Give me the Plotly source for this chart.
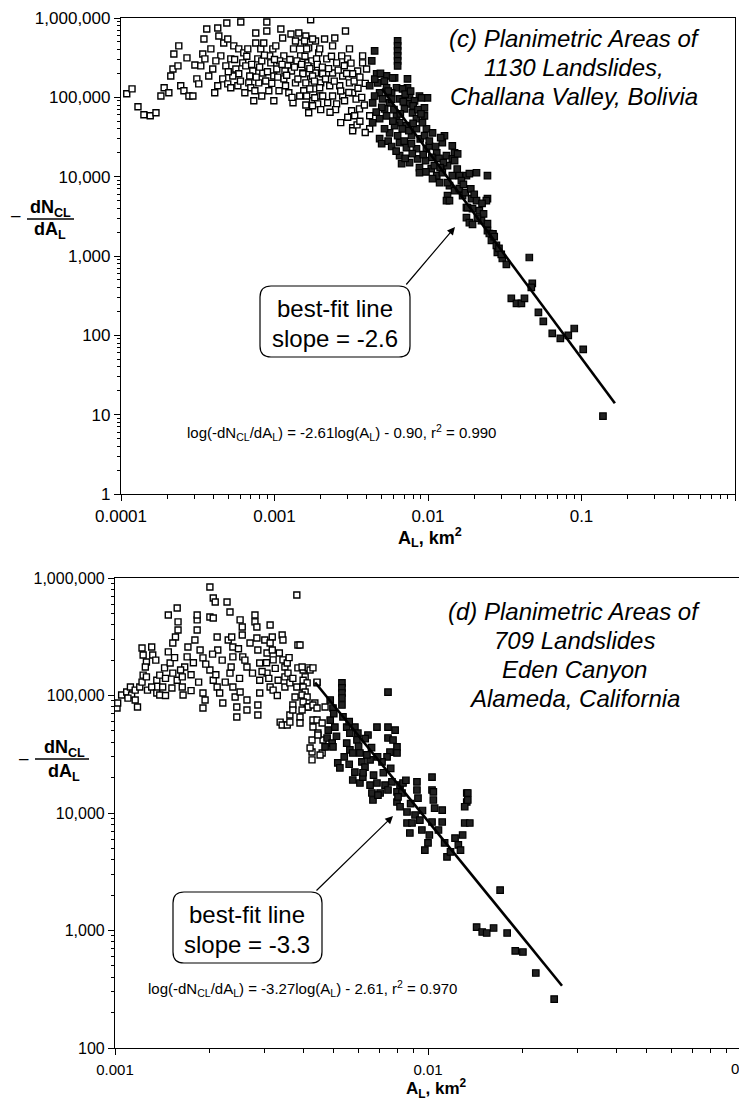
import plotly.graph_objects as go

W, H = 739, 1100

# ---------------- data: panel (c) Challana Valley ----------------
top_open = [
    (1.09e-4, 111000), (1.18e-4, 128000), (1.29e-4, 76000), (1.41e-4, 60300), (1.55e-4, 58500),
    (1.69e-4, 63800), (1.82e-4, 104000), (1.91e-4, 132000), (2.05e-4, 114000), (2.11e-4, 186000),
    (2.18e-4, 228000), (2.21e-4, 352000), (2.38e-4, 445000), (2.35e-4, 249000), (2.45e-4, 140000),
    (2.57e-4, 121000), (2.69e-4, 314000), (2.77e-4, 104000), (2.94e-4, 104000), (3.03e-4, 256000),
    (3.12e-4, 171000), (3.21e-4, 148000), (3.31e-4, 249000), (3.47e-4, 544000), (3.41e-4, 352000),
    (3.52e-4, 305000), (3.62e-4, 727000), (3.85e-4, 408000), (3.96e-4, 228000), (4.08e-4, 114000),
    (4.27e-4, 748000), (4.34e-4, 594000), (4.27e-4, 140000), (4.47e-4, 333000), (4.60e-4, 171000),
    (4.89e-4, 865000), (4.67e-4, 485000), (4.96e-4, 544000), (4.96e-4, 148000), (5.19e-4, 305000),
    (5.19e-4, 132000), (5.43e-4, 445000), (5.60e-4, 228000), (5.85e-4, 408000), (5.85e-4, 198000),
    (6.03e-4, 891000), (6.21e-4, 272000), (6.31e-4, 363000), (6.70e-4, 408000), (6.80e-4, 152000),
    (7.01e-4, 132000), (7.22e-4, 215000), (7.55e-4, 647000), (7.55e-4, 485000), (7.78e-4, 305000),
    (7.90e-4, 152000), (8.14e-4, 408000), (8.39e-4, 203000), (8.91e-4, 891000), (8.91e-4, 686000),
    (8.51e-4, 485000), (9.18e-4, 121000), (9.46e-4, 272000), (9.75e-4, 408000), (9.89e-4, 186000),
    (1.02e-3, 445000), (1.10e-3, 727000), (1.13e-3, 560000), (1.07e-3, 121000), (1.15e-3, 333000),
    (1.15e-3, 171000), (1.22e-3, 249000), (1.24e-3, 114000), (1.28e-3, 629000), (1.32e-3, 85300),
    (1.33e-3, 408000), (1.37e-3, 152000), (1.44e-3, 647000), (1.48e-3, 485000), (1.48e-3, 333000),
    (1.53e-3, 203000), (1.55e-3, 121000), (1.65e-3, 272000), (1.67e-3, 420000), (1.72e-3, 950000),
    (1.72e-3, 171000), (1.77e-3, 90400), (1.67e-3, 63800), (1.80e-3, 128000), (1.91e-3, 228000),
    (1.94e-3, 363000), (2.00e-3, 152000),
    (5.35e-4, 186000), (5.77e-4, 140000), (6.50e-4, 249000), (6.90e-4, 186000), (7.45e-4, 121000),
    (8.26e-4, 288000), (8.77e-4, 161000), (9.31e-4, 333000), (1.035e-3, 228000), (1.08e-3, 288000),
    (1.18e-3, 140000), (1.29e-3, 215000), (1.40e-3, 288000), (1.46e-3, 104000), (1.60e-3, 152000),
    (1.75e-3, 288000), (1.85e-3, 203000), (1.97e-3, 104000), (4.82e-4, 249000), (4.15e-4, 288000),
    (3.73e-4, 186000), (8.26e-4, 104000), (7.33e-4, 90400), (6.41e-4, 114000), (9.90e-4, 90400),
    (1.17e-3, 215000), (1.37e-3, 514000), (1.60e-3, 594000), (1.85e-3, 514000),
    (1.57e-3, 514000), (1.77e-3, 544000), (2.12e-3, 544000), (2.47e-3, 560000), (2.90e-3, 686000),
    (2.39e-3, 445000), (1.97e-3, 408000), (1.62e-3, 408000), (3.08e-3, 408000), (2.99e-3, 305000),
    (2.74e-3, 333000), (2.54e-3, 272000), (2.19e-3, 305000), (1.88e-3, 305000), (1.65e-3, 249000),
    (3.75e-3, 333000), (3.75e-3, 272000), (3.98e-3, 228000), (3.48e-3, 215000), (3.23e-3, 198000),
    (2.78e-3, 186000), (2.39e-3, 203000), (2.06e-3, 198000), (1.77e-3, 186000), (1.53e-3, 198000),
    (3.08e-3, 152000), (2.66e-3, 140000), (2.29e-3, 140000), (1.97e-3, 132000), (1.70e-3, 128000),
    (3.23e-3, 114000), (2.78e-3, 104000), (2.39e-3, 104000), (2.06e-3, 104000), (1.83e-3, 98600),
    (1.62e-3, 104000), (2.86e-3, 90400), (2.54e-3, 82800), (2.22e-3, 85300), (1.91e-3, 82800),
    (1.77e-3, 78200), (3.18e-3, 67600), (3.58e-3, 71600), (3.33e-3, 58500), (3.23e-3, 41300),
    (3.23e-3, 37900), (4.17e-3, 40200), (4.17e-3, 58500),
    (5.0e-4, 210000), (5.5e-4, 300000), (6.0e-4, 160000), (6.6e-4, 330000), (7.1e-4, 260000),
    (7.6e-4, 180000), (8.0e-4, 240000), (8.6e-4, 340000), (9.0e-4, 210000), (9.6e-4, 150000),
    (1.0e-3, 300000), (1.05e-3, 180000), (1.12e-3, 260000), (1.2e-3, 190000), (1.26e-3, 300000),
    (1.35e-3, 240000), (1.42e-3, 170000), (1.5e-3, 260000), (1.58e-3, 330000), (1.7e-3, 230000),
    (1.82e-3, 160000), (1.9e-3, 260000), (2.05e-3, 240000), (2.15e-3, 170000), (2.25e-3, 230000),
    (2.35e-3, 330000), (2.45e-3, 160000), (2.6e-3, 220000), (2.7e-3, 120000), (2.85e-3, 250000),
    (2.95e-3, 200000), (3.05e-3, 115000), (3.15e-3, 270000), (3.3e-3, 160000), (3.4e-3, 95000),
    (3.5e-3, 130000), (3.6e-3, 180000), (3.7e-3, 100000), (3.9e-3, 150000), (3.85e-3, 80000),
    (2.5e-3, 70000), (2.3e-3, 65000), (2.0e-3, 70000), (3.0e-3, 56000), (2.7e-3, 48000),
    (3.45e-3, 45000), (3.9e-3, 36000), (3.6e-3, 50000), (1.6e-3, 80000), (1.3e-3, 100000),
]
top_filled = [
    (6.34e-3, 514000), (6.34e-3, 445000), (6.34e-3, 385000), (6.34e-3, 333000), (6.34e-3, 288000),
    (6.34e-3, 249000), (4.63e-3, 198000), (4.70e-3, 152000), (5.37e-3, 186000), (5.37e-3, 132000),
    (6.06e-3, 176000), (6.24e-3, 132000), (7.35e-3, 171000), (7.35e-3, 132000), (7.58e-3, 104000),
    (7.58e-3, 82800), (8.80e-3, 104000), (9.92e-3, 98600), (9.48e-3, 73800), (9.48e-3, 58500),
    (4.84e-3, 114000), (5.06e-3, 95800), (4.36e-3, 85300), (5.62e-3, 85300), (6.53e-3, 95800),
    (7.03e-3, 71600), (7.93e-3, 63800), (8.41e-3, 53700), (6.24e-3, 58500), (5.37e-3, 58500),
    (4.84e-3, 53700), (4.36e-3, 47800), (6.53e-3, 47800), (7.24e-3, 43900), (8.41e-3, 40200),
    (9.77e-3, 40200), (0.0107, 35700), (0.0128, 32800), (0.0124, 26800), (0.0144, 24500),
    (4.84e-3, 30100), (4.99e-3, 26000), (5.62e-3, 35700), (6.34e-3, 32800), (6.53e-3, 26800),
    (7.24e-3, 23200), (8.41e-3, 22500), (9.77e-3, 22500), (0.0114, 20000), (0.0132, 18400),
    (0.0149, 20000), (0.0144, 16800), (6.53e-3, 18400), (6.73e-3, 14600), (7.58e-3, 15000),
    (8.80e-3, 13000), (8.80e-3, 11200), (0.0105, 12600), (0.0114, 10300), (0.0124, 11200),
    (0.0134, 13800), (0.0144, 10300), (0.0160, 10300), (0.0178, 10300), (0.0207, 11200),
    (0.0244, 10300), (0.0107, 9440), (0.0119, 8410), (0.0138, 7710), (0.0149, 6670),
    (0.0160, 7060), (0.0168, 5770), (0.0134, 5770), (0.0132, 4990), (0.0192, 5290),
    (0.0207, 4990), (0.0244, 5290), (0.0178, 4070), (0.0195, 3960), (0.0216, 3730),
    (5.88e-3, 176000), (9.07e-3, 98600), (0.0121, 31000), (0.0156, 19400), (0.0149, 15900),
    (0.0186, 10900), (0.0134, 8410), (0.0138, 4990), (0.0181, 4070), (0.0178, 3050),
    (0.0186, 2640), (0.0240, 4990), (0.0223, 2800), (0.0244, 2560), (0.0244, 2090),
    (0.0251, 1920), (0.0259, 1570), (0.0279, 1360), (0.0283, 1110), (0.0305, 930),
    (0.0324, 782), (0.0457, 957), (0.0478, 451), (0.0471, 402), (0.0349, 292),
    (0.0377, 253), (0.0406, 253), (0.0425, 292), (0.0524, 195), (0.0564, 150),
    (0.0645, 106), (0.0728, 91.7), (0.0820, 100), (0.0897, 122), (0.1026, 66.7), (0.138, 9.57),
    (4.30e-3, 288000), (4.49e-3, 385000), (4.17e-3, 140000), (4.49e-3, 104000), (5.21e-3, 71600),
    (5.79e-3, 114000), (6.06e-3, 43900), (5.21e-3, 40200), (7.81e-3, 32800), (8.17e-3, 90400),
    (6.83e-3, 128000), (8.55e-3, 16800), (9.64e-3, 15900), (0.0110, 13800), (0.0102, 24500),
    (0.0165, 8900),
    (4.5e-3, 170000), (4.9e-3, 200000), (5.2e-3, 160000), (5.5e-3, 120000), (5.0e-3, 75000),
    (4.6e-3, 65000), (5.8e-3, 95000), (6.0e-3, 70000), (6.6e-3, 62000), (6.9e-3, 88000),
    (7.1e-3, 110000), (7.7e-3, 120000), (8.0e-3, 78000), (8.6e-3, 70000), (9.0e-3, 62000),
    (9.2e-3, 48000), (8.0e-3, 47000), (7.5e-3, 38000), (6.8e-3, 40000), (5.9e-3, 50000),
    (5.5e-3, 28000), (5.8e-3, 24000), (6.2e-3, 21000), (7.0e-3, 28000), (7.8e-3, 26000),
    (8.9e-3, 30000), (9.5e-3, 33000), (0.0102, 28000), (0.0112, 24000), (0.0118, 17000),
    (0.0106, 17500), (9.3e-3, 19000), (7.9e-3, 19500), (7.1e-3, 17000), (0.0126, 15000),
    (0.0120, 13000), (0.0097, 11500), (0.0155, 12500), (0.0170, 8000), (0.0175, 6300),
    (0.0190, 7000), (0.0200, 6000), (0.0225, 4600), (0.0230, 3400), (0.0210, 3000),
    (0.0195, 2500), (0.0265, 1900), (0.0270, 1750), (0.0290, 1250), (0.0300, 1050),
]
top_fit_x = [0.005, 0.165]
top_fit_y = [128000, 13.9]

# ---------------- data: panel (d) Eden Canyon ----------------
bot_open = [
    (1.015e-3, 78300), (1.02e-3, 86300), (1.05e-3, 101000), (1.09e-3, 107000), (1.12e-3, 118000),
    (1.13e-3, 101000), (1.16e-3, 91600), (1.18e-3, 79800), (1.16e-3, 111000), (1.20e-3, 118000),
    (1.22e-3, 130000), (1.23e-3, 149000), (1.26e-3, 144000), (1.22e-3, 254000), (1.23e-3, 221000),
    (1.26e-3, 193000), (1.31e-3, 259000), (1.32e-3, 221000), (1.27e-3, 111000), (1.31e-3, 118000),
    (1.36e-3, 105000), (1.39e-3, 101000), (1.42e-3, 118000), (1.36e-3, 135000), (1.39e-3, 149000),
    (1.44e-3, 172000), (1.48e-3, 235000), (1.48e-3, 484000), (1.58e-3, 556000), (1.59e-3, 423000),
    (1.59e-3, 361000), (1.56e-3, 315000), (1.53e-3, 280000), (1.50e-3, 189000), (1.53e-3, 155000),
    (1.52e-3, 116000), (1.58e-3, 135000), (1.64e-3, 144000), (1.64e-3, 118000), (1.65e-3, 101000),
    (1.67e-3, 175000), (1.70e-3, 213000), (1.71e-3, 259000), (1.80e-3, 297000), (1.83e-3, 361000),
    (1.83e-3, 440000), (1.83e-3, 484000), (1.87e-3, 244000), (1.91e-3, 209000), (1.91e-3, 105000),
    (1.94e-3, 91600), (1.91e-3, 78300), (2.01e-3, 165000), (2.01e-3, 838000), (2.06e-3, 676000),
    (2.09e-3, 625000), (2.01e-3, 466000), (2.06e-3, 457000), (2.12e-3, 315000), (2.13e-3, 244000),
    (2.06e-3, 135000), (2.12e-3, 118000), (2.16e-3, 105000), (2.21e-3, 86300), (2.28e-3, 625000),
    (2.33e-3, 514000), (2.30e-3, 297000), (2.36e-3, 315000), (2.38e-3, 259000), (2.38e-3, 213000),
    (2.33e-3, 155000), (2.38e-3, 118000), (2.42e-3, 97100), (2.45e-3, 79800), (2.45e-3, 65700),
    (2.51e-3, 440000), (2.55e-3, 383000), (2.55e-3, 327000), (2.56e-3, 213000), (2.64e-3, 175000),
    (2.51e-3, 107000), (2.64e-3, 91600), (2.64e-3, 75300), (2.80e-3, 484000), (2.80e-3, 423000),
    (2.84e-3, 383000), (2.84e-3, 309000), (2.86e-3, 244000), (2.90e-3, 189000), (2.90e-3, 135000),
    (2.90e-3, 105000), (2.86e-3, 83000), (2.86e-3, 68300), (3.01e-3, 297000), (3.06e-3, 230000),
    (3.13e-3, 398000), (3.18e-3, 315000), (3.13e-3, 280000), (3.06e-3, 155000), (3.13e-3, 118000),
    (3.18e-3, 244000), (3.20e-3, 201000), (3.20e-3, 111000), (3.32e-3, 135000), (3.42e-3, 327000),
    (3.44e-3, 297000), (3.44e-3, 201000), (3.49e-3, 175000), (3.49e-3, 144000), (3.49e-3, 118000),
    (3.37e-3, 59400), (3.42e-3, 56100), (3.55e-3, 56100), (3.62e-3, 59400), (3.62e-3, 68300),
    (3.70e-3, 83000), (3.76e-3, 97100), (3.81e-3, 118000), (3.84e-3, 172000), (3.84e-3, 269000),
    (3.81e-3, 716000), (3.55e-3, 189000), (3.57e-3, 155000), (3.62e-3, 128000), (3.70e-3, 75300),
    (3.99e-3, 165000), (4.05e-3, 144000), (4.11e-3, 79800), (4.14e-3, 172000), (4.20e-3, 165000),
    (4.29e-3, 172000), (4.42e-3, 128000), (4.35e-3, 86300), (4.29e-3, 61800), (4.29e-3, 53900),
    (4.26e-3, 41800), (4.26e-3, 33000), (4.26e-3, 28300), (4.42e-3, 61800), (4.45e-3, 47900),
    (4.59e-3, 58300), (4.59e-3, 32400), (4.62e-3, 41800), (4.69e-3, 79800), (3.90e-3, 269000),
    (3.96e-3, 175000), (3.99e-3, 135000), (4.11e-3, 128000), (3.99e-3, 118000), (4.05e-3, 107000),
    (3.96e-3, 101000), (4.11e-3, 97100), (3.99e-3, 88100), (4.14e-3, 79800), (3.96e-3, 75300),
    (3.90e-3, 65700), (3.90e-3, 58300), (4.29e-3, 83000), (4.42e-3, 78300), (4.42e-3, 130000),
    (4.20e-3, 35700), (4.52e-3, 31200), (4.45e-3, 46100),
    (1.25e-3, 175000), (1.35e-3, 200000), (1.45e-3, 140000), (1.55e-3, 210000), (1.62e-3, 165000),
    (1.75e-3, 150000), (1.78e-3, 190000), (1.85e-3, 130000), (1.95e-3, 185000), (2.05e-3, 225000),
    (2.10e-3, 150000), (2.20e-3, 200000), (2.25e-3, 130000), (2.35e-3, 175000), (2.48e-3, 250000),
    (2.50e-3, 140000), (2.60e-3, 200000), (2.70e-3, 280000), (2.75e-3, 155000), (2.95e-3, 160000),
    (3.05e-3, 190000), (3.10e-3, 140000), (3.25e-3, 170000), (3.35e-3, 230000), (3.30e-3, 100000),
    (3.60e-3, 210000), (3.70e-3, 140000), (1.10e-3, 95000), (1.45e-3, 100000), (1.75e-3, 110000),
]
bot_filled = [
    (5.31e-3, 128000), (5.31e-3, 116000), (5.31e-3, 105000), (5.31e-3, 95200), (5.31e-3, 83000),
    (4.87e-3, 91600), (4.97e-3, 78300), (4.87e-3, 61800), (5.04e-3, 53900), (4.80e-3, 50800),
    (4.76e-3, 43500), (4.94e-3, 39400), (4.69e-3, 36500), (4.97e-3, 36500), (5.35e-3, 65700),
    (5.50e-3, 53900), (5.84e-3, 53900), (5.63e-3, 47900), (5.97e-3, 47900), (5.93e-3, 41800),
    (5.50e-3, 39400), (5.63e-3, 34400), (5.75e-3, 32400), (6.06e-3, 32400), (6.15e-3, 27200),
    (6.29e-3, 24600), (6.53e-3, 28300), (5.15e-3, 26700), (5.23e-3, 24200), (5.84e-3, 22300),
    (5.75e-3, 19100), (6.06e-3, 18000), (6.19e-3, 20200), (6.87e-3, 53900), (6.43e-3, 46100),
    (7.45e-3, 107000), (7.45e-3, 53900), (7.85e-3, 50800), (7.45e-3, 43500), (7.73e-3, 41800),
    (7.96e-3, 36500), (7.56e-3, 33000), (7.96e-3, 32400), (7.40e-3, 30000), (7.13e-3, 27200),
    (6.38e-3, 31200), (6.53e-3, 17300), (6.87e-3, 18000), (6.62e-3, 14800), (7.03e-3, 14800),
    (7.29e-3, 17300), (7.45e-3, 15700), (7.67e-3, 18400), (8.14e-3, 17300), (8.32e-3, 18000),
    (7.96e-3, 15100), (8.26e-3, 14800), (7.96e-3, 12400), (8.14e-3, 11300), (8.57e-3, 10200),
    (9.09e-3, 9620), (9.22e-3, 18400), (9.22e-3, 15700), (9.29e-3, 13400), (0.0103, 20200),
    (0.0103, 15700), (0.0104, 12900), (0.0105, 11000), (0.0111, 10600), (0.0133, 14800),
    (0.0133, 12400), (0.0131, 11300), (6.67e-3, 12900), (6.92e-3, 14200), (8.02e-3, 13700),
    (9.42e-3, 8710), (8.57e-3, 8220), (8.89e-3, 8220), (8.75e-3, 6760), (9.56e-3, 7170),
    (0.0101, 6500), (0.0100, 5560), (9.77e-3, 4840), (0.0103, 8380), (0.0111, 8380),
    (0.0108, 7170), (0.0113, 5560), (0.0115, 4230), (0.0118, 4660), (0.0122, 6120),
    (0.0125, 5350), (0.0127, 4840), (0.0129, 6500), (0.0131, 8220), (0.0136, 8220),
    (0.0134, 12900), (0.0134, 14800), (0.0104, 15100), (0.0170, 2210), (0.0143, 1070),
    (0.0149, 971), (0.0154, 952), (0.0162, 1050), (0.0179, 952), (0.0190, 670),
    (0.0201, 656), (0.0221, 435), (0.0253, 261),
    (5.1e-3, 45000), (5.4e-3, 30000), (5.6e-3, 26000), (6.0e-3, 37000), (6.3e-3, 43000),
    (6.6e-3, 36000), (6.9e-3, 30000), (5.0e-3, 70000), (5.6e-3, 60000), (6.2e-3, 22000),
    (6.7e-3, 21000), (7.2e-3, 22000), (7.6e-3, 24000), (8.5e-3, 19000), (8.8e-3, 12000),
    (9.6e-3, 10500),
]
bot_fit_x = [0.00436, 0.0268]
bot_fit_y = [129000, 339]

top_xticks = [1e-4, 1e-3, 1e-2, 1e-1, 1]
top_xlabels = ["0.0001", "0.001", "0.01", "0.1", "1"]
top_yticks = [1, 10, 100, 1e3, 1e4, 1e5, 1e6]
top_ylabels = ["1", "10", "100", "1,000", "10,000", "100,000", "1,000,000"]
bot_xticks = [1e-3, 1e-2]
bot_xlabels = ["0.001", "0.01"]
bot_yticks = [100, 1e3, 1e4, 1e5, 1e6]
bot_ylabels = ["100", "1,000", "10,000", "100,000", "1,000,000"]

FONT = "Liberation Sans, Arial, Helvetica, sans-serif"


def px(x):
    return x / W


def py(y):
    return 1 - y / H


def minor_vals(e0, e1):
    return [m * 10.0 ** e for e in range(e0, e1) for m in range(2, 10)]


fig = go.Figure()

open_marker = dict(symbol="square", size=6, color="white", line=dict(color="black", width=1.4))
filled_marker = dict(symbol="square", size=6.5, color="#222222", line=dict(color="black", width=1.2))

for xs_ys, mk, xa, ya in [
    (top_open, open_marker, "x", "y"),
    (top_filled, filled_marker, "x", "y"),
    (bot_open, open_marker, "x2", "y2"),
    (bot_filled, filled_marker, "x2", "y2"),
]:
    xs, ys = zip(*xs_ys)
    fig.add_trace(go.Scatter(x=list(xs), y=list(ys), mode="markers", marker=mk,
                             xaxis=xa, yaxis=ya, showlegend=False, hoverinfo="skip"))

fig.add_trace(go.Scatter(x=top_fit_x, y=top_fit_y, mode="lines", line=dict(color="black", width=2.6),
                         xaxis="x", yaxis="y", showlegend=False))
fig.add_trace(go.Scatter(x=bot_fit_x, y=bot_fit_y, mode="lines", line=dict(color="black", width=2.6),
                         xaxis="x2", yaxis="y2", showlegend=False))

axis_common = dict(type="log", showgrid=False, zeroline=False, showline=True, linecolor="black",
                   linewidth=1.2, ticks="outside", tickcolor="black", ticklen=6, tickwidth=1.1,
                   tickmode="array", automargin=False)

fig.update_layout(
    width=W, height=H, margin=dict(l=0, r=0, t=0, b=0, autoexpand=False),
    paper_bgcolor="white", plot_bgcolor="white",
    font=dict(family=FONT, color="black"),
    xaxis=dict(axis_common, domain=[px(121), px(735)], range=[-4, 0], anchor="y", mirror=True,
               tickvals=top_xticks, ticktext=top_xlabels, tickfont=dict(size=17),
               minor=dict(tickmode="array", tickvals=minor_vals(-4, 0), ticks="outside",
                          ticklen=4, tickcolor="black")),
    yaxis=dict(axis_common, domain=[py(494), py(18)], range=[0, 6], anchor="x", mirror=True,
               tickvals=top_yticks, ticktext=top_ylabels, tickfont=dict(size=17),
               minor=dict(tickmode="array", tickvals=minor_vals(0, 6), ticks="outside",
                          ticklen=3, tickcolor="black")),
    xaxis2=dict(axis_common, domain=[px(115), 1.0], range=[-3, -1.0064], anchor="y2", mirror=True,
                tickvals=bot_xticks, ticktext=bot_xlabels, tickfont=dict(size=15),
                ticklabelstandoff=2,
                minor=dict(tickmode="array", tickvals=minor_vals(-3, -1), ticks="outside",
                           ticklen=4, tickcolor="black")),
    yaxis2=dict(axis_common, domain=[py(1048), py(578)], range=[2, 6], anchor="x2", mirror=False,
                tickvals=bot_yticks, ticktext=bot_ylabels, tickfont=dict(size=16),
                minor=dict(tickmode="array", tickvals=minor_vals(2, 6), ticks="outside",
                           ticklen=3, tickcolor="black")),
)

ann = []
shapes = []


def text(x, y, t, size, italic=False, bold=False, xanchor="center"):
    if bold:
        t = "<b>" + t + "</b>"
    if italic:
        t = "<i>" + t + "</i>"
    ann.append(dict(x=px(x), y=py(y), xref="paper", yref="paper", text=t, showarrow=False,
                    xanchor=xanchor, yanchor="middle", font=dict(size=size, family=FONT, color="black")))


# titles in panels
for i, line in enumerate(["(c) Planimetric Areas of", "1130 Landslides,", "Challana Valley, Bolivia"]):
    text(574, 38 + 29.5 * i, line, 24, italic=True)
for i, line in enumerate(["(d) Planimetric Areas of", "709 Landslides", "Eden Canyon", "Alameda, California"]):
    text(574, 611 + 29.3 * i, line, 24, italic=True)

# axis titles
text(430, 537, "A<sub>L</sub>, km<sup>2</sup>", 18, bold=True)
text(436, 1088, "A<sub>L</sub>, km<sup>2</sup>", 17, bold=True)

# y-axis fraction titles
for (cx, ynum, yline, yden, mx, my, l0, l1) in [(50, 208, 219, 231, 16, 216, 27, 74),
                                                 (64, 748, 759, 772, 24, 758, 35, 89)]:
    text(cx, ynum, "dN<sub>CL</sub>", 18, bold=True)
    text(cx, yden, "dA<sub>L</sub>", 18, bold=True)
    text(mx, my, "\u2013", 17)
    shapes.append(dict(type="line", xref="paper", yref="paper", x0=px(l0), x1=px(l1),
                       y0=py(yline), y1=py(yline), line=dict(color="black", width=1.5)))

# equations
text(341, 432, "log(-dN<sub>CL</sub>/dA<sub>L</sub>) = -2.61log(A<sub>L</sub>) - 0.90, r<sup>2</sup> = 0.990", 15)
text(302, 988, "log(-dN<sub>CL</sub>/dA<sub>L</sub>) = -3.27log(A<sub>L</sub>) - 2.61, r<sup>2</sup> = 0.970", 15)


# best-fit boxes
def rbox(x0, y0, x1, y1, r=11):
    pts = [("M", x0 + r, y0), ("L", x1 - r, y0), ("Q", x1, y0, x1, y0 + r), ("L", x1, y1 - r),
           ("Q", x1, y1, x1 - r, y1), ("L", x0 + r, y1), ("Q", x0, y1, x0, y1 - r),
           ("L", x0, y0 + r), ("Q", x0, y0, x0 + r, y0)]
    s = ""
    for p in pts:
        c = p[0]
        coords = p[1:]
        parts = []
        for k in range(0, len(coords), 2):
            parts.append("%.5f,%.5f" % (px(coords[k]), py(coords[k + 1])))
        s += c + " " + " ".join(parts) + " "
    return s + "Z"


for (x0, y0, x1, y1, l1, l2) in [(260, 286, 410, 357, "best-fit line", "slope = -2.6"),
                                  (173, 892, 322, 963, "best-fit line", "slope = -3.3")]:
    shapes.append(dict(type="path", xref="paper", yref="paper", path=rbox(x0, y0, x1, y1),
                       line=dict(color="black", width=1.2), fillcolor="white"))
    cx = (x0 + x1) / 2
    text(cx, y0 + 22, l1, 24)
    text(cx, y0 + 52, l2, 24)

# arrows
for (tx, ty, sx, sy) in [(455, 227, 405, 286), (393, 816, 315, 892)]:
    ann.append(dict(x=px(tx), y=py(ty), xref="paper", yref="paper", text="", showarrow=True,
                    ax=sx - tx, ay=sy - ty, axref="pixel", ayref="pixel", arrowhead=2,
                    arrowsize=1.3, arrowwidth=1.2, arrowcolor="black", standoff=0, startstandoff=0))

# partially visible 0.1 label at right edge of bottom axis
text(741, 1068, "0.1", 15)

fig.update_layout(annotations=ann, shapes=shapes)
fig.write_html("out.html")
